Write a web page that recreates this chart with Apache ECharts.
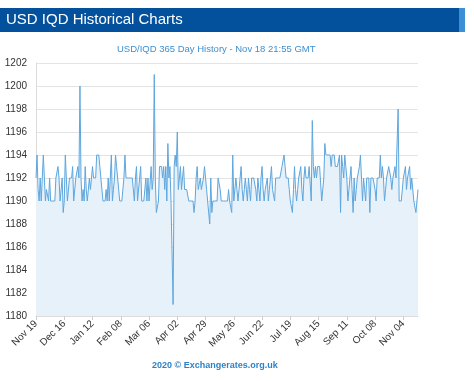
<!DOCTYPE html>
<html>
<head>
<meta charset="utf-8">
<script src="https://cdn.jsdelivr.net/npm/echarts@6/dist/echarts.min.js"></script>
<style>
html,body{margin:0;padding:0;background:#fff;}
#chart{width:474px;height:381px;}
</style>
</head>
<body>
<div id="chart"></div>
<script>
var startDate = '2019-11-19';
var rates = [
1192,1194,1191,1190,1192,1190,1192,1194,1192,1190,
1191,1191,1190,1192,1190,1190,1190,1190,1190,1192,
1192,1193,1192,1190,1190,1192,1189,1190,1194,1192,
1190,1190,1192,1192,1192,1193,1190,1190,1192,1192,
1193,1192,1200,1192,1190,1191,1190,1193,1191,1190,
1190,1192,1191,1191,1193,1192,1192,1192,1194,1194,
1194,1193,1192,1192,1190,1190,1190,1191,1190,1192,
1190,1192,1194,1190,1191,1192,1194,1193,1192,1192,
1190,1190,1190,1190,1192,1194,1192,1192,1192,1192,
1192,1192,1192,1192,1190,1192,1193,1190,1190,1192,
1193,1190,1190,1190,1190,1192,1190,1192,1190,1190,
1193,1191,1192,1201,1192,1189,1189,1190,1193,1193,
1193,1192,1193,1191,1193,1190,1195,1192,1193,1190,
1190,1181,1193,1194,1193,1196,1191,1191,1193,1191,
1192,1193,1191,1191,1191,1191,1190,1190,1190,1190,
1190,1189,1190,1192,1193,1191,1191,1192,1191,1191,
1192,1193,1192,1191,1190,1190,1188,1192,1189,1190,
1190,1190,1190,1190,1192,1192,1191,1190,1190,1190,
1190,1190,1190,1190,1191,1190,1190,1189,1194,1190,
1190,1192,1191,1190,1191,1192,1193,1191,1190,1191,
1192,1191,1190,1192,1191,1190,1192,1192,1192,1192,
1191,1190,1192,1191,1190,1192,1193,1191,1190,1191,
1191,1192,1190,1191,1192,1193,1191,1191,1190,1192,
1192,1192,1192,1192,1192,1193,1193,1194,1193,1192,
1192,1192,1191,1190,1190,1189,1191,1193,1191,1190,
1191,1192,1192,1193,1191,1190,1192,1193,1192,1192,
1192,1193,1193,1190,1197,1193,1192,1193,1192,1193,
1193,1193,1193,1190,1190,1192,1195,1194,1194,1194,
1194,1194,1193,1194,1194,1194,1193,1193,1193,1193,
1194,1189,1194,1193,1192,1194,1193,1192,1190,1191,
1192,1193,1191,1189,1192,1190,1191,1192,1192,1193,
1194,1192,1190,1192,1191,1190,1192,1192,1192,1189,
1192,1192,1192,1192,1191,1190,1192,1192,1192,1194,
1192,1193,1192,1190,1191,1192,1192,1193,1193,1192,
1191,1192,1192,1193,1192,1192,1198,1190,1190,1190,
1190,1192,1192,1193,1191,1192,1192,1193,1191,1192,
1192,1190,1190,1189,1190,1191
];
var yMin = 1180, yMax = 1202, yStep = 2;
var headerText = 'USD IQD Historical Charts';
var subtitleText = 'USD/IQD 365 Day History - Nov 18 21:55 GMT';
var footerText = '2020 \u00a9 Exchangerates.org.uk';
var months = ['Jan','Feb','Mar','Apr','May','Jun','Jul','Aug','Sep','Oct','Nov','Dec'];

var categories = [];
var t0 = Date.parse(startDate + 'T00:00:00Z');
for (var i = 0; i < rates.length; i++) {
  var d = new Date(t0 + i * 86400000);
  var dd = d.getUTCDate();
  categories.push(months[d.getUTCMonth()] + ' ' + (dd < 10 ? '0' + dd : dd));
}

var chart = echarts.init(document.getElementById('chart'));
chart.setOption({
  animation: false,
  graphic: [
    {type: 'rect', shape: {x: 0, y: 8, width: 465, height: 24}, style: {fill: '#03519c'}, silent: true},
    {type: 'rect', shape: {x: 459, y: 8, width: 6, height: 24}, style: {fill: '#3b8fd4'}, silent: true},
    {type: 'text', left: 6, top: 12, style: {text: headerText, fill: '#ffffff', font: '15px "Liberation Sans", Arial, sans-serif'}, silent: true},
    {type: 'text', left: 117, top: 44, style: {text: subtitleText, fill: '#3f8fd0', font: '9.5px "Liberation Sans", Arial, sans-serif'}, silent: true},
    {type: 'text', left: 152, top: 361, style: {text: footerText, fill: '#2c82c9', font: 'bold 9px "Liberation Sans", Arial, sans-serif'}, silent: true}
  ],
  grid: {left: 36, right: 56, top: 63, bottom: 65, containLabel: false},
  xAxis: {
    type: 'category',
    data: categories,
    boundaryGap: false,
    axisLine: {show: true, lineStyle: {color: '#dcdcdc'}},
    axisTick: {show: true, interval: 26, length: 4, lineStyle: {color: '#cccccc'}},
    axisLabel: {interval: 26, rotate: 45, color: '#333333', fontSize: 10, fontFamily: 'Liberation Sans', margin: 6},
    splitLine: {show: false}
  },
  yAxis: {
    type: 'value',
    min: yMin, max: yMax, interval: yStep,
    axisLine: {show: true, lineStyle: {color: '#dcdcdc'}},
    axisTick: {show: false},
    axisLabel: {color: '#333333', fontSize: 10, fontFamily: 'Liberation Sans', margin: 9, formatter: function (v) { return String(v); }},
    splitLine: {show: true, lineStyle: {color: '#e4e4e4'}}
  },
  series: [{
    type: 'line',
    data: rates,
    showSymbol: false,
    smooth: false,
    lineStyle: {color: '#5ea6dd', width: 1},
    areaStyle: {color: '#e6f1fa', origin: 'start', opacity: 1},
    silent: true
  }]
});
</script>
</body>
</html>
